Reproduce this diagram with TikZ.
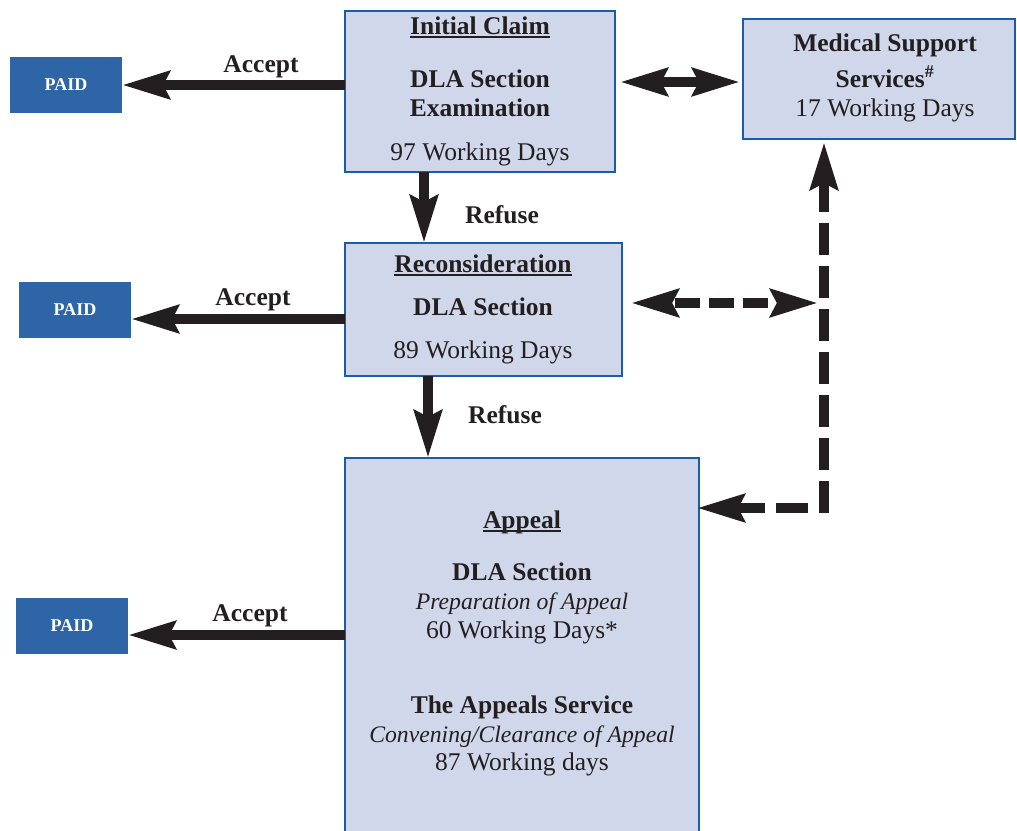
\documentclass[tikz,border=0pt]{standalone}
\usepackage{fontspec}
\setmainfont{Liberation Serif}
\usetikzlibrary{arrows.meta,calc}
\definecolor{boxfill}{HTML}{D0D7EA}
\definecolor{boxline}{HTML}{1A5CA8}
\definecolor{paidfill}{HTML}{2E65A6}
\definecolor{ink}{HTML}{231F20}
\newcommand\myul[1]{\sbox0{#1}\rlap{\raisebox{-3.5pt}{\rule{\wd0}{1.6pt}}}\usebox0}
\begin{document}
\begin{tikzpicture}[x=1pt,y=-1pt,
  box/.style={draw=boxline,fill=boxfill,line width=2.8pt,inner sep=0pt,outer sep=0pt,anchor=north west},
  paid/.style={fill=paidfill,text=white,inner sep=0pt,outer sep=0pt,anchor=north west,minimum width=112pt,minimum height=56pt,font=\fontsize{18}{20}\selectfont\bfseries},
  txt/.style={anchor=base,inner sep=0pt,text=ink,font=\fontsize{25.5}{28}\selectfont},
  btxt/.style={anchor=base,inner sep=0pt,text=ink,font=\fontsize{25.5}{28}\selectfont\bfseries},
  itxt/.style={anchor=base,inner sep=0pt,text=ink,font=\fontsize{23.7}{28}\selectfont\itshape},
  arr/.style={draw=ink,line width=10.5pt,-{Stealth[length=47pt,width=27pt,inset=6pt]}},
  darr/.style={draw=ink,line width=10.5pt,{Stealth[length=47pt,width=27pt,inset=6pt]}-{Stealth[length=47pt,width=27pt,inset=6pt]}}
]
\useasboundingbox (0,0) rectangle (1017,830);
\clip (0,0) rectangle (1017,830);

% boxes
\node[box,minimum width=270pt,minimum height=161pt] (init) at (345,11) {};
\node[box,minimum width=272pt,minimum height=120pt] (med) at (743,19) {};
\node[box,minimum width=277pt,minimum height=133pt] (recon) at (345,243) {};
\node[box,minimum width=354pt,minimum height=392pt] (appeal) at (345,458) {};

\node[paid] (paid1) at (10,57) {PAID};
\node[paid] (paid2) at (19,282) {PAID};
\node[paid] (paid3) at (16,598) {PAID};

% texts: initial claim
\node[btxt] (t1a) at (480,34) {\myul{Initial Claim}};
\node[btxt] (t1b) at (480,87) {DLA Section};
\node[btxt] (t1c) at (480,116) {Examination};
\node[txt] (t1d) at (480,160) {97 Working Days};

% medical
\node[btxt] (t2a) at (885,51) {Medical Support};
\node[btxt] (t2b) at (885,87) {Services\textsuperscript{\#}};
\node[txt] (t2c) at (885,116) {17 Working Days};

% reconsideration
\node[btxt] (t3a) at (483,272) {\myul{Reconsideration}};
\node[btxt] (t3b) at (483,315) {DLA Section};
\node[txt] (t3c) at (483,358) {89 Working Days};

% appeal
\node[btxt] (t4a) at (522,528) {\myul{Appeal}};
\node[btxt] (t4b) at (522,580) {DLA Section};
\node[itxt] (t4c) at (522,609) {Preparation of Appeal};
\node[txt] (t4d) at (522,638) {60 Working Days*};
\node[btxt] (t4e) at (522,713) {The Appeals Service};
\node[itxt] (t4f) at (522,742) {Convening/Clearance of Appeal};
\node[txt] (t4g) at (522,770) {87 Working days};

% labels
\node[btxt] (l1) at (261,72) {Accept};
\node[btxt] (l2) at (253,305) {Accept};
\node[btxt] (l3) at (250,621) {Accept};
\node[btxt] (l4) at (502,223) {Refuse};
\node[btxt] (l5) at (505,423) {Refuse};

% arrows
\draw[arr] (init.west |- 0,85) -- (paid1.east |- 0,85);
\draw[arr] (recon.west |- 0,319) -- (paid2.east |- 0,319);
\draw[arr] (appeal.west |- 0,635) -- (paid3.east |- 0,635);
\draw[arr] (init.south -| 424,0) -- (recon.north -| 424,0);
\draw[arr] (recon.south -| 428,0) -- (appeal.north -| 428,0);
\draw[darr] ($(init.east |- 0,82)+(5,0)$) -- ($(med.west |- 0,82)+(-3,0)$);

\coordinate (corner) at (824,508);
\draw[darr,miter limit=10,dash pattern=on 32pt off 11pt] ($(med.south -| corner)+(0,3)$) -- (corner) -- ($(appeal.east |- corner)+(-2,0)$);
\draw[darr,dash pattern=on 25pt off 9pt,dash phase=28pt] ($(recon.east |- 0,303)+(9,0)$) -- ($(corner |- 0,303)+(-6,0)$);
\end{tikzpicture}
\end{document}
